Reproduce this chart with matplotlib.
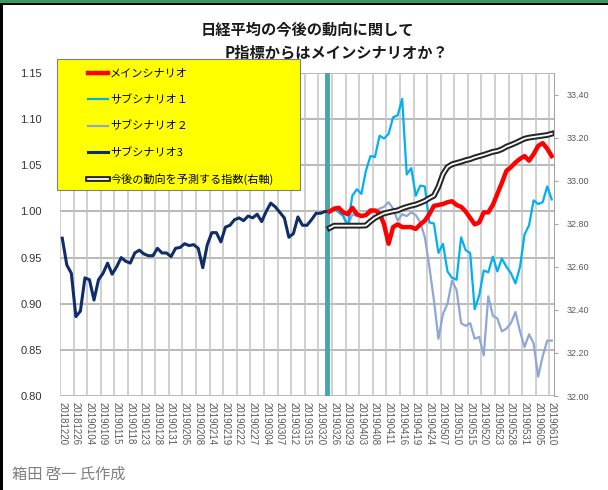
import matplotlib
matplotlib.use('Agg')
import matplotlib.pyplot as plt
import matplotlib.patheffects as pe
from matplotlib.patches import Rectangle
from matplotlib.ticker import FormatStrFormatter
import numpy as np
import pandas as pd

plt.rcParams['font.family'] = ['Noto Sans CJK JP', 'DejaVu Sans']

# ---- categories: trading days (Tokyo) ----
holidays = ['2018-12-24', '2018-12-31', '2019-01-01', '2019-01-02', '2019-01-03',
            '2019-01-14', '2019-02-11', '2019-03-21', '2019-04-29', '2019-04-30',
            '2019-05-01', '2019-05-02', '2019-05-03', '2019-05-06']
days = pd.bdate_range('2018-12-20', '2019-06-10')
days = days[~days.isin(pd.to_datetime(holidays))]
categories = days.strftime('%Y%m%d').tolist()
tick_labels = categories[::3]
scenario_start_date = '20190325'

# ---- series ----
sub3 = [0.971, 0.942, 0.933, 0.886, 0.892, 0.928, 0.926, 0.904, 0.926, 0.933,
        0.944, 0.932, 0.940, 0.950, 0.946, 0.944, 0.955, 0.958, 0.954, 0.952,
        0.952, 0.960, 0.955, 0.955, 0.951, 0.960, 0.961, 0.965, 0.963, 0.964,
        0.960, 0.939, 0.964, 0.977, 0.977, 0.967, 0.983, 0.985, 0.991, 0.993,
        0.990, 0.995, 0.993, 0.997, 0.989, 1.000, 1.009, 1.005, 0.999, 0.993,
        0.972, 0.976, 0.994, 0.985, 0.985, 0.991, 0.998, 0.998, 1.000, 1.000]

main = [1.000, 1.003, 1.004, 0.999, 0.997, 1.004, 0.997, 0.995, 0.996, 1.001,
        1.001, 0.998, 0.986, 0.965, 0.983, 0.986, 0.983, 0.983, 0.983, 0.981,
        0.986, 0.990, 0.997, 1.006, 1.007, 1.008, 1.010, 1.011, 1.007, 1.005,
        1.000, 0.993, 0.986, 0.988, 0.999, 0.999, 1.007, 1.019, 1.031, 1.044,
        1.048, 1.053, 1.057, 1.060, 1.055, 1.062, 1.071, 1.074, 1.068, 1.060]

sub1 = [1.000, 1.003, 0.999, 0.995, 0.984, 1.017, 1.024, 1.019, 1.044, 1.060,
        1.059, 1.082, 1.079, 1.084, 1.102, 1.104, 1.122, 1.040, 1.047, 1.017,
        1.028, 1.027, 0.988, 0.987, 0.955, 0.965, 0.935, 0.928, 0.926, 0.972,
        0.958, 0.955, 0.894, 0.909, 0.936, 0.934, 0.951, 0.935, 0.949, 0.940,
        0.933, 0.922, 0.940, 0.975, 0.985, 1.012, 1.008, 1.010, 1.027, 1.013]

sub2 = [1.000, 1.004, 1.003, 0.995, 0.984, 0.997, 0.995, 0.996, 0.995, 0.998,
        1.001, 1.003, 1.005, 1.010, 1.003, 0.990, 0.997, 0.995, 0.999, 0.996,
        0.988, 0.972, 0.940, 0.904, 0.862, 0.889, 0.900, 0.925, 0.915, 0.879,
        0.876, 0.879, 0.862, 0.864, 0.844, 0.908, 0.887, 0.884, 0.870, 0.873,
        0.879, 0.891, 0.870, 0.853, 0.867, 0.857, 0.821, 0.843, 0.860, 0.860]

forecast_index = [32.780, 32.791, 32.791, 32.791, 32.791, 32.791, 32.791, 32.791, 32.792, 32.811,
                  32.827, 32.838, 32.848, 32.853, 32.858, 32.862, 32.871, 32.878, 32.884, 32.889,
                  32.897, 32.906, 32.919, 32.930, 32.972, 33.030, 33.063, 33.076, 33.082, 33.088,
                  33.095, 33.100, 33.108, 33.114, 33.120, 33.127, 33.134, 33.138, 33.146, 33.158,
                  33.166, 33.175, 33.185, 33.195, 33.200, 33.203, 33.206, 33.209, 33.212, 33.218]

labels = ['メインシナリオ', 'サブシナリオ１', 'サブシナリオ２', 'サブシナリオ3',
          '今後の動向を予測する指数(右軸)']
title1 = '日経平均の今後の動向に関して'
title2 = 'P指標からはメインシナリオか？'
caption = '箱田 啓一 氏作成'

# ---- figure ----
W, H = 608, 490
fig = plt.figure(figsize=(W / 100, H / 100), dpi=100)
fig.patch.set_facecolor('white')


def fx(px):
    return px / W


def fy(py):
    return 1 - py / H


ax = fig.add_axes([fx(60), fy(396), (554 - 60) / W, (396 - 73) / H])
n = len(categories)
start = categories.index(scenario_start_date)
x_hist = np.arange(len(sub3))
x_scn = np.arange(start, start + len(main))

ax.set_xlim(-0.5, n - 0.5)
ax.set_ylim(0.80, 1.15)
yt = np.arange(0.80, 1.1501, 0.05)
ax.set_yticks(yt)
ax.yaxis.set_major_formatter(FormatStrFormatter('%.2f'))
ax.set_xticks(np.arange(0, n, 3))
ax.set_xticklabels(tick_labels, rotation=-90, fontsize=7, color='#595959',
                   family='Liberation Sans')
ax.tick_params(axis='x', length=0, pad=4)
ax.tick_params(axis='y', length=0, pad=13, labelsize=8, labelcolor='#333333')
for lab in ax.get_yticklabels():
    lab.set_family('Liberation Sans')
for s in ax.spines.values():
    s.set_visible(False)

for v in yt:
    ax.axhline(v, color='#a6a6a6', lw=1.1, zorder=0)
for b in np.arange(-0.5, n - 1, 3):
    ax.axvline(b, color='#c4c4c4', lw=1.1, zorder=0)

ax.axvline(start - 0.5, color='#45a6ad', lw=3.5, zorder=3)

l_sub2, = ax.plot(x_scn, sub2, color='#8fa7d6', lw=1.6, zorder=4)
l_sub1, = ax.plot(x_scn, sub1, color='#00b0f0', lw=1.6, zorder=5)
l_sub3, = ax.plot(x_hist, sub3, color='#0f2d69', lw=2.2, zorder=6)
l_main, = ax.plot(x_scn, main, color='#ff0000', lw=3.2, zorder=7)

ax2 = ax.twinx()
ax2.set_ylim(32.0, 33.5)
ax2.set_yticks(np.arange(32.0, 33.41, 0.2))
ax2.yaxis.set_major_formatter(FormatStrFormatter('%.2f'))
ax2.tick_params(axis='y', length=3, color='#a6a6a6', labelsize=6.5,
                labelcolor='#595959', pad=6)
for lab in ax2.get_yticklabels():
    lab.set_family('Liberation Sans')
for k, s in ax2.spines.items():
    s.set_visible(k == 'right')
ax2.spines['right'].set_color('#a6a6a6')
l_idx, = ax2.plot(x_scn, forecast_index, color='white', lw=1.3,
                  path_effects=[pe.Stroke(linewidth=4.2, foreground='#262626'), pe.Normal()])

# legend box
fig.add_artist(Rectangle((fx(57), fy(190)), (300 - 57) / W, (190 - 59) / H,
                         transform=fig.transFigure, facecolor='#ffff00',
                         edgecolor='#7f7f7f', lw=0.8, zorder=4))
fig.legend([l_main, l_sub1, l_sub2, l_sub3, l_idx], labels, loc='upper left',
           bbox_to_anchor=(fx(88), fy(69)), frameon=False, fontsize=8,
           handlelength=1.8, handletextpad=0.2, labelspacing=1.4,
           borderpad=0, borderaxespad=0)

# titles and caption
fig.text(fx(307), fy(30), title1, ha='center', va='center', fontsize=11,
         fontweight='bold', color='#1a1a1a')
fig.text(fx(337), fy(52), title2, ha='center', va='center', fontsize=11,
         fontweight='bold', color='#1a1a1a')
fig.text(fx(12), fy(474), caption, ha='left', va='center', fontsize=11,
         color='#7f7f7f')

# frame decorations
fig.add_artist(Rectangle((0, fy(3)), 1, 3 / H, transform=fig.transFigure,
                         facecolor='#3a9a5e', edgecolor='none', zorder=10))
fig.add_artist(Rectangle((0, fy(5)), 1, 2 / H, transform=fig.transFigure,
                         facecolor='black', edgecolor='none', zorder=10))
fig.add_artist(Rectangle((0, 0), 3 / W, fy(3), transform=fig.transFigure,
                         facecolor='black', edgecolor='none', zorder=10))

fig.savefig('out.png', dpi=100)
